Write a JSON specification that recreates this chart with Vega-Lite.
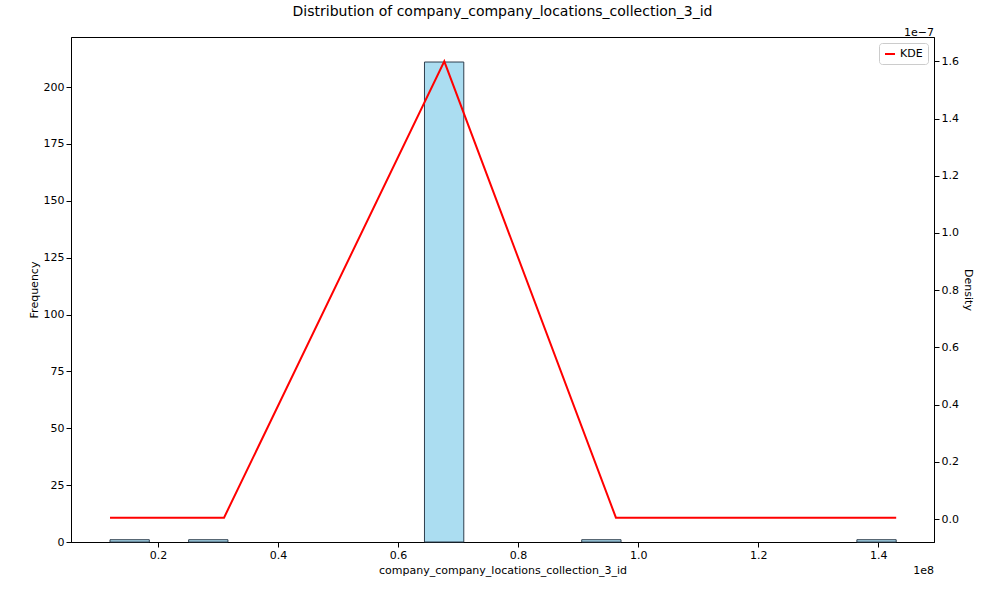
{
  "$schema": "https://vega.github.io/schema/vega-lite/v6.json",
  "width": 863,
  "height": 505,
  "padding": {"left": 71, "top": 37, "right": 66, "bottom": 58},
  "autosize": "none",
  "background": "white",
  "config": {
    "font": "DejaVu Sans",
    "view": {"stroke": "black", "strokeWidth": 1},
    "axis": {"grid": false, "labelFontSize": 11, "titleFontSize": 11, "titleFontWeight": "normal", "domainColor": "black", "tickColor": "black", "labelColor": "black", "titleColor": "black"}
  },
  "title": {"text": "Distribution of company_company_locations_collection_3_id", "fontSize": 14, "fontWeight": "normal", "offset": 8},
  "datasets": {
    "bars": [
      {"x0": 0.12, "x1": 0.1855, "count": 1},
      {"x0": 0.251, "x1": 0.3165, "count": 1},
      {"x0": 0.644, "x1": 0.7095, "count": 211},
      {"x0": 0.906, "x1": 0.9715, "count": 1},
      {"x0": 1.3645, "x1": 1.43, "count": 1}
    ],
    "kde": [
      {"x": 0.12, "density": 0.005, "series": "KDE"},
      {"x": 0.31, "density": 0.005, "series": "KDE"},
      {"x": 0.677, "density": 1.6, "series": "KDE"},
      {"x": 0.963, "density": 0.005, "series": "KDE"},
      {"x": 1.43, "density": 0.005, "series": "KDE"}
    ],
    "notes": [
      {"x": 1.493, "y": 1.7, "t": "1e−7", "b": "bottom"},
      {"x": 1.493, "y": -0.18, "t": "1e8", "b": "top"}
    ]
  },
  "layer": [
    {
      "data": {"name": "bars"},
      "mark": {"type": "rect", "fill": "#87CEEB", "fillOpacity": 0.7, "stroke": "#2f3f4f", "strokeWidth": 1},
      "encoding": {
        "x": {"field": "x0", "type": "quantitative", "scale": {"domain": [0.055, 1.493], "nice": false, "zero": false},
          "axis": {"values": [0.2, 0.4, 0.6, 0.8, 1.0, 1.2, 1.4], "format": ".1f", "title": "company_company_locations_collection_3_id"}},
        "x2": {"field": "x1"},
        "y": {"field": "count", "type": "quantitative", "scale": {"domain": [0, 222], "nice": false},
          "axis": {"values": [0, 25, 50, 75, 100, 125, 150, 175, 200], "title": "Frequency"}},
        "y2": {"datum": 0}
      }
    },
    {
      "layer": [
        {
          "data": {"name": "kde"},
          "mark": {"type": "line", "strokeWidth": 2},
          "encoding": {
            "x": {"field": "x", "type": "quantitative"},
            "y": {"field": "density", "type": "quantitative", "scale": {"domain": [-0.08, 1.685], "nice": false},
              "axis": {"orient": "right", "values": [0, 0.2, 0.4, 0.6, 0.8, 1.0, 1.2, 1.4, 1.6], "format": ".1f", "title": "Density"}},
            "color": {"field": "series", "type": "nominal", "scale": {"range": ["red"]},
              "legend": {"orient": "top-right", "title": null, "symbolType": "stroke", "symbolStrokeWidth": 2, "labelFontSize": 11, "strokeColor": "#cccccc", "fillColor": "white", "padding": 5, "cornerRadius": 3, "offset": 6}}
          }
        },
        {
          "data": {"name": "notes"},
          "mark": {"type": "text", "align": "right", "fontSize": 11, "clip": false},
          "encoding": {
            "x": {"field": "x", "type": "quantitative"},
            "y": {"field": "y", "type": "quantitative"},
            "baseline": {"field": "b", "type": "nominal", "scale": null},
            "text": {"field": "t"}
          }
        }
      ]
    }
  ],
  "resolve": {"scale": {"y": "independent"}}
}
